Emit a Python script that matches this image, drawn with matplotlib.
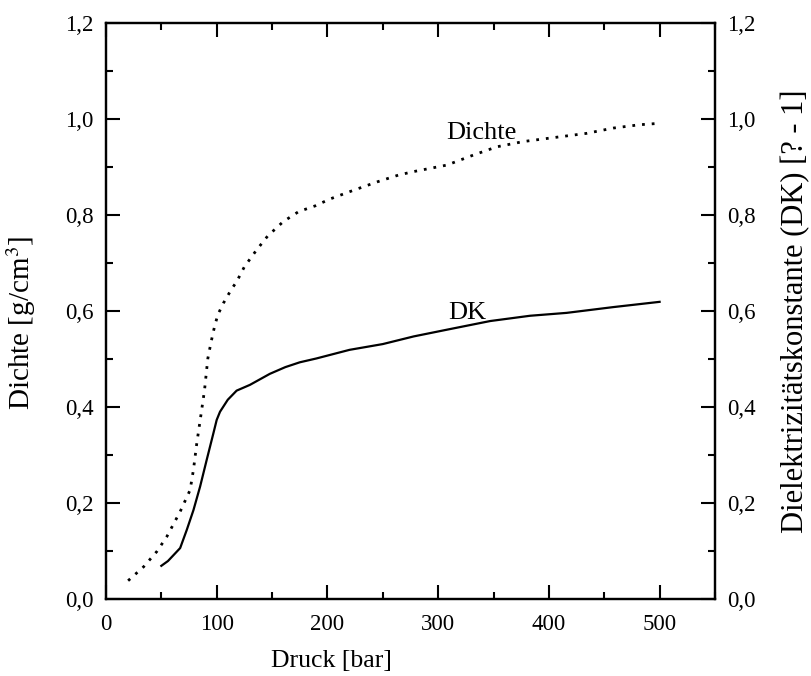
import numpy as np
import matplotlib
matplotlib.use("Agg")
import matplotlib.pyplot as plt
from matplotlib.ticker import MultipleLocator, FuncFormatter

# Dichte (gepunktete Kurve)
druck_dichte = [20, 34, 46, 55, 67, 76, 79, 82, 86, 89, 92, 95, 98, 101, 106,
                113, 118, 125, 136, 146, 160, 174, 189, 202, 223, 245, 264,
                277, 308, 332, 353, 377, 407, 434, 458, 482, 500]
dichte = [0.038, 0.067, 0.099, 0.130, 0.182, 0.227, 0.269, 0.324, 0.387, 0.435,
          0.501, 0.536, 0.567, 0.592, 0.616, 0.644, 0.661, 0.692, 0.727, 0.756,
          0.786, 0.807, 0.819, 0.833, 0.851, 0.869, 0.883, 0.890, 0.904, 0.925,
          0.942, 0.953, 0.962, 0.970, 0.981, 0.988, 0.991]

# Dielektrizitaetskonstante (durchgezogene Kurve)
druck_dk = [50, 56, 67, 73, 79, 85, 91, 97, 100, 103, 110, 118, 130, 148, 162,
            175, 190, 220, 250, 278, 308, 347, 383, 416, 458, 500]
dk = [0.069, 0.079, 0.106, 0.144, 0.185, 0.234, 0.290, 0.345, 0.373, 0.390,
      0.415, 0.434, 0.446, 0.469, 0.483, 0.493, 0.501, 0.519, 0.531, 0.547,
      0.561, 0.579, 0.590, 0.596, 0.608, 0.619]

plt.rcParams['font.family'] = ['Liberation Serif', 'DejaVu Serif']
plt.rcParams['mathtext.fontset'] = 'stix'

fig = plt.figure(figsize=(8.12, 6.76), dpi=100)
ax = fig.add_axes([0.1305, 0.114, 0.75, 0.852])

ax.plot(druck_dichte, dichte, color='black', lw=2, linestyle=(0, (1, 2.5)))
ax.plot(druck_dk, dk, color='black', lw=1.6)

ax.set_xlim(0, 550)
ax.set_ylim(0, 1.2)

komma = FuncFormatter(lambda v, p: ("%.1f" % v).replace('.', ','))
ax.xaxis.set_major_locator(MultipleLocator(100))
ax.xaxis.set_minor_locator(MultipleLocator(50))
ax.yaxis.set_major_locator(MultipleLocator(0.2))
ax.yaxis.set_minor_locator(MultipleLocator(0.1))
ax.yaxis.set_major_formatter(komma)

ax2 = ax.twinx()
ax2.set_ylim(0, 1.2)
ax2.yaxis.set_major_locator(MultipleLocator(0.2))
ax2.yaxis.set_minor_locator(MultipleLocator(0.1))
ax2.yaxis.set_major_formatter(komma)

for a in (ax, ax2):
    for s in a.spines.values():
        s.set_linewidth(1.6)
ax.tick_params(which='both', direction='in', top=True, right=False,
               labelsize=16.5, width=1.5, pad=9)
ax.tick_params(axis='x', pad=11)
ax.tick_params(which='major', length=10)
ax.tick_params(which='minor', length=5)
ax2.tick_params(which='both', direction='in', labelsize=16.5, width=1.5, pad=9)
ax2.tick_params(which='major', length=10)
ax2.tick_params(which='minor', length=5)

ax.set_xlabel("Druck [bar]", fontsize=18.5)
ax.xaxis.set_label_coords(0.37, -0.088)
ax.set_ylabel("Dichte [g/cm$^3$]", fontsize=21)
ax.yaxis.set_label_coords(-0.112, 0.48)
ax2.set_ylabel("Dielektrizitätskonstante (DK) [? - 1]", fontsize=22)
ax2.yaxis.set_label_coords(1.108, 0.5)

ax.text(339, 0.97, "Dichte", fontsize=19, ha='center', va='center')
ax.text(326, 0.596, "DK", fontsize=19, ha='center', va='center')

fig.savefig("out.png", dpi=100)
